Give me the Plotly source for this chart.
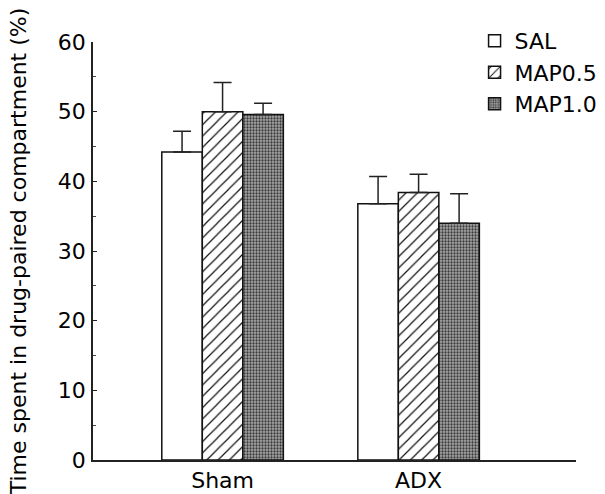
import plotly.graph_objects as go

groups = ["Sham", "ADX"]
series_names = ["SAL", "MAP0.5", "MAP1.0"]
sal_mean = [44.2, 36.8]
sal_err = [3.0, 3.9]
map05_mean = [50.0, 38.4]
map05_err = [4.2, 2.6]
map10_mean = [49.6, 34.0]
map10_err = [1.6, 4.2]
y_ticks = [0, 10, 20, 30, 40, 50, 60]

FONT = "DejaVu Sans, Liberation Sans, Arial, sans-serif"

styles = [
    dict(color="white", pattern=dict(shape="")),
    dict(color="white", pattern=dict(shape="/", fgcolor="#111", bgcolor="white",
                                      size=8, solidity=0.15, fillmode="replace")),
    dict(color="#999999", pattern=dict(shape=".", fgcolor="#3a3a3a", bgcolor="#a8a8a8",
                                        size=3, solidity=0.45, fillmode="replace")),
]
means = [sal_mean, map05_mean, map10_mean]
errs = [sal_err, map05_err, map10_err]

fig = go.Figure()
for name, m, e, st in zip(series_names, means, errs, styles):
    fig.add_trace(go.Bar(
        x=groups, y=m, name=name,
        marker=dict(color=st["color"], pattern=st["pattern"],
                    line=dict(color="#111", width=1.5)),
        error_y=dict(type="data", array=e, arrayminus=[0] * len(e), symmetric=False,
                     color="#222", thickness=1.5, width=9),
    ))

fig.update_layout(
    width=605, height=494,
    margin=dict(l=93, r=29, t=42, b=34, autoexpand=False),
    paper_bgcolor="white", plot_bgcolor="white",
    barmode="group", bargap=0.38, bargroupgap=0,
    font=dict(family=FONT, color="black", size=22),
    showlegend=True,
    legend=dict(x=0.79, y=1.053, xanchor="left", yanchor="top",
                font=dict(size=22, family=FONT), bgcolor="rgba(0,0,0,0)",
                itemwidth=30, tracegroupgap=0),
    xaxis=dict(range=[-0.661, 1.803], showline=True, linecolor="#222", linewidth=1.5,
               ticks="", tickfont=dict(size=22), showgrid=False, zeroline=False,
               automargin=False),
    yaxis=dict(range=[0, 60], tickvals=y_ticks, showline=True, linecolor="#222",
               linewidth=1.5, ticks="inside", ticklen=4, tickcolor="#222",
               tickfont=dict(size=22), showgrid=False, zeroline=False,
               ticklabelstandoff=1, automargin=False,
               minor=dict(dtick=5, ticks="inside", ticklen=3, tickcolor="#444"),
               title=dict(text="Time spent in drug-paired compartment (%)",
                          font=dict(size=22), standoff=25)),
)

fig.write_html("out.html", config={"displayModeBar": False},
               post_script="document.body.style.margin='0';")
